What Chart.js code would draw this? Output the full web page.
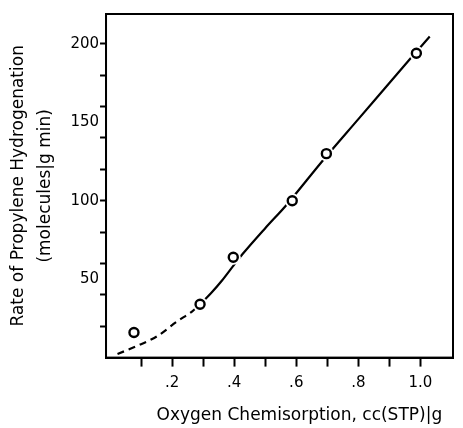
<!DOCTYPE html>
<html lang="en">
<head>
  <meta charset="UTF-8">
  <title>Rate of Propylene Hydrogenation</title>
  <script src="https://cdn.jsdelivr.net/npm/chart.js"></script>
  <style>
    body { margin: 0; background: #fff; }
    .grafico { width: 463px; height: 428px; }
  </style>
</head>
<body>
  <div class="grafico">
    <canvas id="myChart"></canvas>
  </div>
<script>
  // measured points (open circles)
  const pontosX = [0.077, 0.29, 0.397, 0.587, 0.697, 0.987];
  const pontosY = [16, 34, 64, 100, 130, 194];

  // dashed part of the curve (low coverage)
  const tracoX = [0.024, 0.088, 0.153, 0.217, 0.265, 0.29];
  const tracoY = [2.3, 7.5, 13.8, 23.2, 29.5, 33.9];

  // solid part of the curve
  const curvaX = [0.29, 0.325, 0.36, 0.397, 0.427, 0.5, 0.567, 0.685, 0.8, 0.965, 1.03];
  const curvaY = [33.9, 41, 49, 58.5, 66, 82.5, 97, 125.5, 152, 190, 204.6];

  const xTicks = [0.1, 0.2, 0.3, 0.4, 0.5, 0.6, 0.7, 0.8, 0.9, 1.0];
  const xLabels = [0.2, 0.4, 0.6, 0.8, 1.0];
  const yTicks = [20, 40, 50, 60, 80, 100, 120, 140, 150, 160, 180, 200];
  const yLabels = [50, 100, 150, 200];

  const pares = (xs, ys) => xs.map((x, i) => ({ x: x, y: ys[i] }));
  const perto = (a, b) => Math.abs(a - b) < 1e-6;

  const moldura = {
    id: 'moldura',
    afterDraw(chart) {
      const { ctx, chartArea: a } = chart;
      ctx.save();
      ctx.strokeStyle = '#000';
      ctx.lineWidth = 2;
      ctx.strokeRect(a.left, a.top, a.right - a.left, a.bottom - a.top);
      ctx.restore();
    }
  };

  const fonteTicks = { family: 'DejaVu Sans', size: 15 };

  new Chart(document.getElementById('myChart'), {
    type: 'scatter',
    data: {
      datasets: [
        {
          label: 'pontos',
          data: pares(pontosX, pontosY),
          showLine: false,
          pointRadius: 4.5,
          pointBorderWidth: 2.4,
          pointBorderColor: '#000',
          pointBackgroundColor: '#fff',
          order: 0
        },
        {
          // white halo so the line stops short of each circle
          label: 'halo',
          data: pares(pontosX, pontosY),
          showLine: false,
          pointRadius: 7.5,
          pointBorderWidth: 0,
          pointBorderColor: '#fff',
          pointBackgroundColor: '#fff',
          order: 1
        },
        {
          label: 'curva',
          data: pares(curvaX, curvaY),
          showLine: true,
          pointRadius: 0,
          borderColor: '#000',
          borderWidth: 2.2,
          cubicInterpolationMode: 'monotone',
          order: 2
        },
        {
          label: 'tracejada',
          data: pares(tracoX, tracoY),
          showLine: true,
          pointRadius: 0,
          borderColor: '#000',
          borderWidth: 2.2,
          borderDash: [7, 5],
          cubicInterpolationMode: 'monotone',
          order: 3
        }
      ]
    },
    options: {
      responsive: true,
      maintainAspectRatio: false,
      animation: false,
      layout: { padding: { top: 14, right: 10, left: 5, bottom: 0 } },
      plugins: { legend: { display: false }, tooltip: { enabled: false } },
      scales: {
        x: {
          type: 'linear',
          min: -0.013,
          max: 1.105,
          afterBuildTicks: s => { s.ticks = xTicks.map(v => ({ value: v })); },
          border: { display: true, color: '#000', width: 2 },
          grid: { drawOnChartArea: false, drawTicks: true, tickLength: 9, tickWidth: 2, tickColor: '#000' },
          ticks: {
            color: '#000',
            font: fonteTicks,
            padding: 8,
            maxRotation: 0,
            autoSkip: false,
            callback: v => {
              if (!xLabels.some(l => perto(l, v))) return '';
              return perto(v, 1) ? '1.0' : v.toFixed(1).replace(/^0/, '');
            }
          },
          title: {
            display: true,
            // trailing spaces pull the right-aligned title in from the border
            text: 'Oxygen Chemisorption, cc(STP)|g  ',
            color: '#000',
            font: { family: 'DejaVu Sans', size: 17 },
            align: 'end',
            padding: { top: 5, bottom: 2 }
          }
        },
        y: {
          type: 'linear',
          min: 0,
          max: 219,
          afterBuildTicks: s => { s.ticks = yTicks.map(v => ({ value: v })); },
          border: { display: true, color: '#000', width: 2 },
          grid: {
            drawOnChartArea: false,
            drawTicks: true,
            tickLength: 6,
            tickWidth: 2,
            tickColor: c => (c.tick && c.tick.value % 20 === 0) ? '#000' : 'rgba(0,0,0,0)'
          },
          ticks: {
            color: '#000',
            font: fonteTicks,
            padding: 1,
            autoSkip: false,
            callback: v => yLabels.includes(v) ? String(v) : ''
          },
          title: {
            display: true,
            text: ['Rate of Propylene Hydrogenation', '(molecules|g min)'],
            color: '#000',
            font: { family: 'DejaVu Sans', size: 17, lineHeight: 1.6 },
            padding: { top: 0, bottom: 10 }
          }
        }
      }
    },
    plugins: [moldura]
  });
</script>
</body>
</html>
